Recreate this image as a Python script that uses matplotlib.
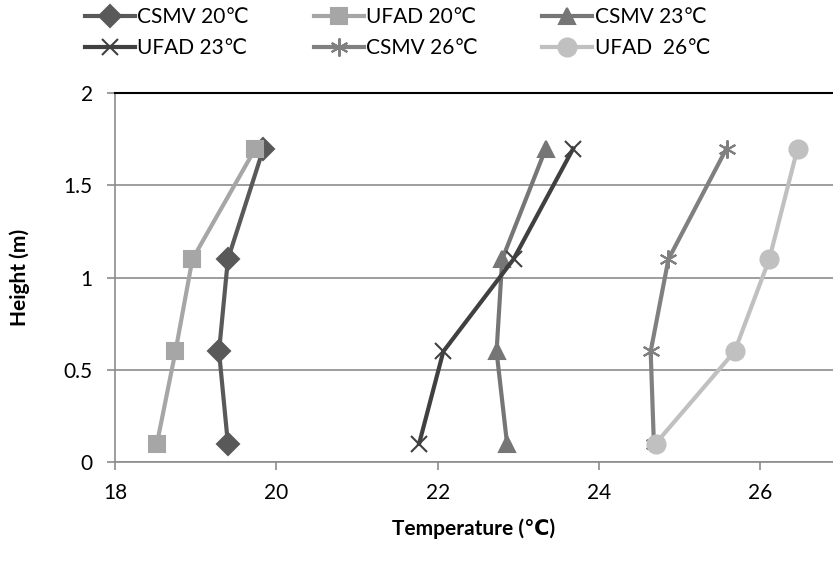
import matplotlib
matplotlib.use("Agg")
import matplotlib.pyplot as plt

# --- data ---
heights = [0.1, 0.6, 1.1, 1.7]
csmv_20 = [19.40, 19.29, 19.40, 19.84]
ufad_20 = [18.52, 18.75, 18.96, 19.74]
csmv_23 = [22.86, 22.73, 22.80, 23.34]
ufad_23 = [21.77, 22.07, 22.94, 23.68]
csmv_26 = [24.68, 24.64, 24.86, 25.58]
ufad_26 = [24.70, 25.68, 26.11, 26.46]

series = [
    ("CSMV 20℃", csmv_20, "#595959", "D", 11),
    ("UFAD 20℃", ufad_20, "#a6a6a6", "s", 12),
    ("CSMV 23℃", csmv_23, "#767676", "^", 12),
    ("UFAD 23℃", ufad_23, "#404040", "x", 12),
    ("CSMV 26℃", csmv_26, "#808080", (6, 2, 0), 13),
    ("UFAD  26℃", ufad_26, "#c0c0c0", "o", 13),
]

plt.rcParams["font.family"] = ["Lato", "DejaVu Sans"]

fig = plt.figure(figsize=(8.33, 5.65), dpi=100)
ax = fig.add_axes([0.138, 0.182, 0.862, 0.653])

lines = []
for label, temps, color, marker, ms in series:
    ln, = ax.plot(temps, heights, color=color, lw=3, marker=marker, ms=ms,
                  mew=1.5, mec=color, label=label)
    lines.append(ln)

ax.set_xlim(18, 26.9)
ax.set_ylim(0, 2)
ax.set_xticks([18, 20, 22, 24, 26])
ax.set_yticks([0, 0.5, 1, 1.5, 2])
ax.set_yticklabels(["0", "0.5", "1", "1.5", "2"])
ax.yaxis.grid(True, color="#8c8c8c", lw=1.2)
ax.set_axisbelow(True)

for side in ["left", "bottom"]:
    ax.spines[side].set_color("#8c8c8c")
    ax.spines[side].set_linewidth(1.2)
ax.spines["right"].set_visible(False)
ax.spines["top"].set_color("black")
ax.spines["top"].set_linewidth(1.5)
ax.tick_params(colors="#8c8c8c", labelcolor="black", labelsize=15,
               length=6, width=1.2, direction="out")
ax.tick_params(axis="x", pad=9)
ax.tick_params(axis="y", pad=10)

ax.set_xlabel("Temperature (℃)", fontsize=15, fontweight="bold", labelpad=11)
ax.set_ylabel("Height (m)", fontsize=15, fontweight="bold", labelpad=24)

# legend fills row by row like the original
order = [0, 3, 1, 4, 2, 5]
fig.legend([lines[i] for i in order], [series[i][0] for i in order],
           loc="upper left", bbox_to_anchor=(0.08, 1.02), ncol=3,
           frameon=False, fontsize=15, handlelength=2.4, handletextpad=0.1,
           columnspacing=3.1, labelspacing=0.5)

fig.savefig("out.png", dpi=100)
